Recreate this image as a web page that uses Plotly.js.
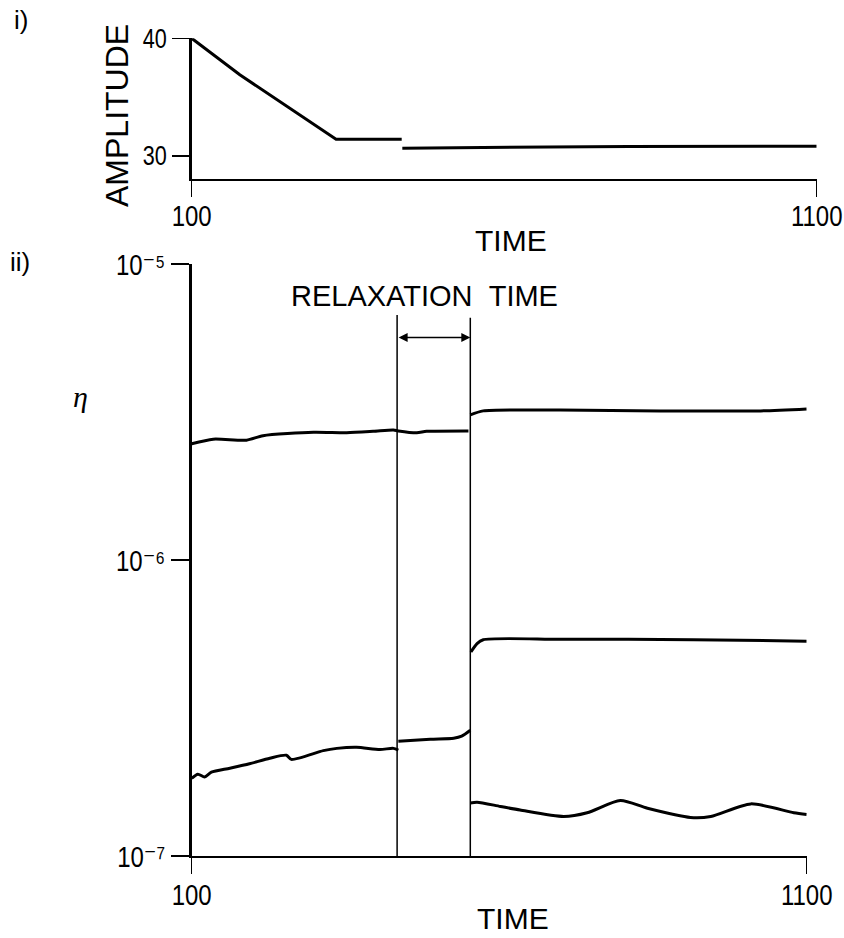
<!DOCTYPE html>
<html>
<head>
<meta charset="utf-8">
<script src="https://cdn.plot.ly/plotly-3.0.1.min.js"></script>
<style>html,body{margin:0;padding:0;background:#fff;}#chart{width:844px;height:938px;}</style>
</head>
<body>
<div id="chart"></div>
<script>
// ---- Panel i): amplitude vs time ----
const ampTimeA = [100, 177, 331, 436];
const ampValA  = [40, 36.9, 31.4, 31.4];
const ampTimeB = [437, 650, 800, 1100];
const ampValB  = [30.65, 30.72, 30.8, 30.82];
const ampTicks = [30, 40];

// ---- Panel ii): eta vs time ----
const upperPreT  = [100, 135, 189, 216, 298, 352, 395, 428, 436, 466, 482, 550];
const upperPreV  = [2.47e-6, 2.56e-6, 2.54e-6, 2.63e-6, 2.70e-6, 2.69e-6, 2.72e-6, 2.75e-6, 2.73e-6, 2.69e-6, 2.72e-6, 2.73e-6];
const upperPostT = [553, 574, 699, 862, 1025, 1100];
const upperPostV = [3.09e-6, 3.19e-6, 3.21e-6, 3.19e-6, 3.19e-6, 3.24e-6];
const middlePostT = [554, 564, 574, 699, 916, 1100];
const middlePostV = [4.89e-7, 5.22e-7, 5.38e-7, 5.40e-7, 5.38e-7, 5.32e-7];
const lowerPreT = [100, 110, 121, 132, 162, 194, 227, 254, 262, 314, 336, 368, 406, 428, 436];
const lowerPreV = [1.83e-7, 1.89e-7, 1.85e-7, 1.92e-7, 1.98e-7, 2.05e-7, 2.14e-7, 2.19e-7, 2.12e-7, 2.27e-7, 2.31e-7, 2.33e-7, 2.29e-7, 2.31e-7, 2.28e-7];
const lowerRelaxT = [436, 488, 526, 539, 553];
const lowerRelaxV = [2.44e-7, 2.48e-7, 2.50e-7, 2.54e-7, 2.66e-7];
const bottomPostT = [553, 564, 602, 634, 705, 743, 797, 841, 911, 944, 1009, 1079, 1100];
const bottomPostV = [1.51e-7, 1.52e-7, 1.47e-7, 1.43e-7, 1.36e-7, 1.40e-7, 1.54e-7, 1.45e-7, 1.35e-7, 1.36e-7, 1.50e-7, 1.40e-7, 1.38e-7];

const relaxStart = 434, relaxEnd = 553;
const relaxTopV = [6.73e-6, 6.58e-6];
const arrowV = 5.64e-6;
const etaTicks = [1e-7, 1e-6, 1e-5];
const etaTickText = ['10\u207b\u2077', '10\u207b\u2076', '10\u207b\u2075'];
const timeTicks = [100, 1100];

const BLK = '#000';
const sans = 'Liberation Sans, Arial, Helvetica, DejaVu Sans, sans-serif';

function curve(x, y, xa, ya, w, shape) {
  return {x: x, y: y, xaxis: xa, yaxis: ya, type: 'scatter', mode: 'lines',
    line: {color: BLK, width: w || 3, shape: shape || 'linear', smoothing: 0.7},
    cliponaxis: false, showlegend: false, hoverinfo: 'skip'};
}

const traces = [
  curve(ampTimeA, ampValA, 'x', 'y', 3),
  curve(ampTimeB, ampValB, 'x', 'y', 3),
  curve(upperPreT, upperPreV, 'x2', 'y2', 3, 'spline'),
  curve(upperPostT, upperPostV, 'x2', 'y2', 3, 'spline'),
  curve(middlePostT, middlePostV, 'x2', 'y2', 3, 'spline'),
  curve(lowerPreT, lowerPreV, 'x2', 'y2', 3, 'spline'),
  curve(lowerRelaxT, lowerRelaxV, 'x2', 'y2', 3, 'spline'),
  curve(bottomPostT, bottomPostV, 'x2', 'y2', 3, 'spline'),
  curve([relaxStart, relaxStart], [etaTicks[0], relaxTopV[0]], 'x2', 'y2', 1.5),
  curve([relaxEnd, relaxEnd], [etaTicks[0], relaxTopV[1]], 'x2', 'y2', 1.5)
];

const xCommon = {type: 'linear', range: [100, 1100], tickvals: timeTicks, ticktext: timeTicks.map(String),
  ticks: 'outside', ticklen: 16, tickwidth: 1.5, tickcolor: BLK, showline: true, linecolor: BLK, linewidth: 2,
  showgrid: false, zeroline: false, mirror: false, fixedrange: true, ticklabeloverflow: 'allow',
  tickfont: {family: sans, size: 30, color: BLK}};

const layout = {
  width: 844, height: 938,
  margin: {l: 0, r: 0, t: 0, b: 0},
  paper_bgcolor: '#fff', plot_bgcolor: '#fff',
  showlegend: false,
  xaxis: Object.assign({}, xCommon, {domain: [0.22713, 0.96765], anchor: 'y'}),
  yaxis: {domain: [0.80885, 0.95917], anchor: 'x', range: [28, 40], tickvals: ampTicks, ticktext: ampTicks.map(String),
    ticks: 'outside', ticklen: 17, tickwidth: 1.5, tickcolor: BLK, showline: true, linecolor: BLK, linewidth: 2.5,
    showgrid: false, zeroline: false, fixedrange: true, ticklabeloverflow: 'allow',
    tickfont: {family: sans, size: 27, color: BLK}},
  xaxis2: Object.assign({}, xCommon, {domain: [0.22713, 0.95581], anchor: 'y2'}),
  yaxis2: {domain: [0.08742, 0.71855], anchor: 'x2', type: 'log', range: [-7, -5], tickvals: etaTicks, ticktext: etaTickText,
    ticks: 'outside', ticklen: 18, tickwidth: 1.5, tickcolor: BLK, showline: true, linecolor: BLK, linewidth: 2.5,
    showgrid: false, zeroline: false, fixedrange: true, ticklabeloverflow: 'allow',
    tickfont: {family: sans, size: 30, color: BLK}},
  annotations: [
    {text: 'i)', xref: 'paper', yref: 'paper', x: 0.0249, y: 0.9787, xanchor: 'center', yanchor: 'middle', showarrow: false,
     font: {family: sans, size: 26, color: BLK}},
    {text: 'ii)', xref: 'paper', yref: 'paper', x: 0.0237, y: 0.7207, xanchor: 'center', yanchor: 'middle', showarrow: false,
     font: {family: sans, size: 26, color: BLK}},
    {text: 'AMPLITUDE', xref: 'paper', yref: 'paper', x: 0.1386, y: 0.8774, xanchor: 'center', yanchor: 'middle', textangle: -90,
     showarrow: false, font: {family: sans, size: 32, color: BLK}},
    {text: 'TIME', xref: 'paper', yref: 'paper', x: 0.6055, y: 0.7431, xanchor: 'center', yanchor: 'middle', showarrow: false,
     font: {family: sans, size: 30, color: BLK}},
    {text: 'TIME', xref: 'paper', yref: 'paper', x: 0.6084, y: 0.0203, xanchor: 'center', yanchor: 'middle', showarrow: false,
     font: {family: sans, size: 30, color: BLK}},
    {text: '<i>\u03b7</i>', xref: 'paper', yref: 'paper', x: 0.0948, y: 0.5768, xanchor: 'center', yanchor: 'middle', showarrow: false,
     font: {family: 'Liberation Serif, Times New Roman, serif', size: 30, color: BLK}},
    {text: 'RELAXATION\u00a0\u00a0TIME', xref: 'paper', yref: 'paper', x: 0.5024, y: 0.6844, xanchor: 'center', yanchor: 'middle',
     showarrow: false, font: {family: sans, size: 29, color: BLK}},
    {text: '', xref: 'x2', yref: 'y2', x: relaxEnd, y: Math.log10(arrowV), axref: 'x2', ayref: 'y2', ax: relaxStart, ay: Math.log10(arrowV),
     showarrow: true, arrowhead: 2, arrowside: 'end+start', arrowsize: 1.2, arrowwidth: 1.5, arrowcolor: BLK, standoff: 0, startstandoff: 0}
  ]
};

Plotly.newPlot('chart', traces, layout, {staticPlot: true, displayModeBar: false}).then(function (gd) {
  // condensed look of the original tick numerals: squeeze horizontally
  function squeeze(sel, anchorRight, dy) {
    gd.querySelectorAll(sel).forEach(function (t) {
      var b = t.getBBox();
      var cx = anchorRight ? b.x + b.width : b.x + b.width / 2;
      var cy = b.y + b.height / 2;
      var tr = t.getAttribute('transform') || '';
      t.setAttribute('transform', tr + ' translate(0,' + dy + ') translate(' + cx + ',' + cy + ') scale(0.8,1) translate(' + (-cx) + ',' + (-cy) + ')');
    });
  }
  squeeze('g.xtick text', false, -7);
  squeeze('g.x2tick text', false, -5);
  squeeze('g.ytick text', true, 0);
  squeeze('g.y2tick text', true, 0);
  // drop empty placeholder text nodes
  gd.querySelectorAll('text').forEach(function (t) {
    if (!t.textContent.trim()) t.parentNode.removeChild(t);
  });
});
</script>
</body>
</html>
